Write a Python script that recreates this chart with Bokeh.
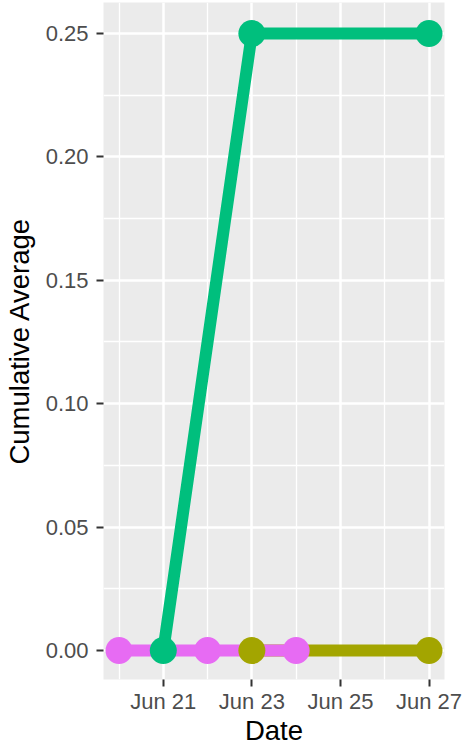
import pandas as pd
from bokeh.plotting import figure
from bokeh.models import Range1d, FixedTicker, DatetimeTickFormatter, NumeralTickFormatter
from bokeh.embed import file_html
from bokeh.resources import INLINE

# ---- data ----
olive_dates = ["2020-06-23", "2020-06-27"]
olive_vals = [0.0, 0.0]
green_dates = ["2020-06-21", "2020-06-23", "2020-06-27"]
green_vals = [0.0, 0.25, 0.25]
magenta_dates = ["2020-06-20", "2020-06-22", "2020-06-24"]
magenta_vals = [0.0, 0.0, 0.0]

x_major = ["2020-06-21", "2020-06-23", "2020-06-25", "2020-06-27"]
x_minor = ["2020-06-20", "2020-06-22", "2020-06-24", "2020-06-26"]
y_major = [0.0, 0.05, 0.10, 0.15, 0.20, 0.25]
y_minor = [0.025, 0.075, 0.125, 0.175, 0.225]

series = [
    (olive_dates, olive_vals, "#A3A500"),
    (green_dates, green_vals, "#00BF7D"),
    (magenta_dates, magenta_vals, "#E76BF3"),
]

def ms(d):
    return pd.Timestamp(d).value // 10**6

DAY = 86400000
x0 = ms("2020-06-20") - 0.35 * DAY
x1 = ms("2020-06-27") + 0.35 * DAY

p = figure(width=465, height=748, output_backend="svg", toolbar_location=None,
           x_axis_type="datetime",
           x_range=Range1d(x0, x1), y_range=Range1d(-0.01175, 0.26256),
           min_border_left=102, min_border_right=21, min_border_top=2,
           min_border_bottom=0)

p.background_fill_color = "#EBEBEB"
p.border_fill_color = "white"
p.outline_line_color = None

for d, v, c in series:
    p.line([pd.Timestamp(x) for x in d], v, line_color=c, line_width=12,
           line_join="round")
for d, v, c in series:
    p.scatter([pd.Timestamp(x) for x in d], v, size=27, fill_color=c,
              line_color=None)

p.xaxis.ticker = FixedTicker(ticks=[ms(d) for d in x_major],
                             minor_ticks=[ms(d) for d in x_minor])
p.xaxis.formatter = DatetimeTickFormatter(days="%b %d", months="%b %d",
                                          hours="%b %d")
p.yaxis.ticker = FixedTicker(ticks=y_major, minor_ticks=y_minor)
p.yaxis.formatter = NumeralTickFormatter(format="0.00")

p.xaxis.axis_label = "Date"
p.yaxis.axis_label = "Cumulative Average"

for ax in (p.xaxis, p.yaxis):
    ax.axis_line_color = None
    ax.major_tick_line_color = "#333333"
    ax.major_tick_line_width = 2
    ax.major_tick_out = 7
    ax.major_tick_in = 0
    ax.minor_tick_line_color = None
    ax.major_label_text_font = "Liberation Sans"
    ax.major_label_text_font_size = "22px"
    ax.major_label_text_color = "#4D4D4D"
    ax.axis_label_text_font = "Liberation Sans"
    ax.axis_label_text_font_size = "27.5px"
    ax.axis_label_text_font_style = "normal"
    ax.axis_label_text_color = "black"

p.yaxis.major_label_standoff = 8
p.yaxis.axis_label_standoff = 8
p.xaxis.major_label_standoff = 2
p.xaxis.axis_label_standoff = -2

for g in (p.xgrid, p.ygrid):
    g.grid_line_color = "white"
    g.grid_line_width = 2.5
    g.minor_grid_line_color = "white"
    g.minor_grid_line_width = 1.3

open("out.html", "w").write(file_html(p, INLINE))
